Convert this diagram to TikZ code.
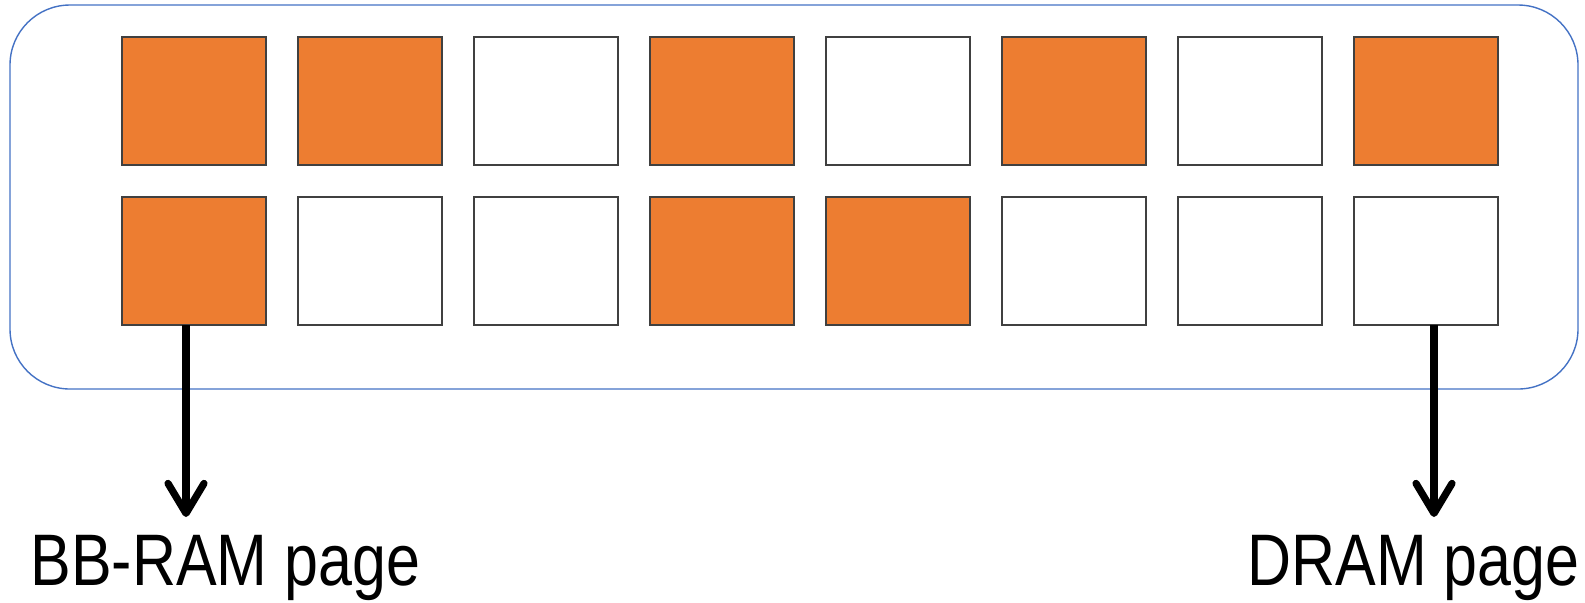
\documentclass[tikz,border=0pt]{standalone}
\usepackage{fontspec}
\setmainfont{Liberation Sans}
\usetikzlibrary{arrows.meta, positioning}
\definecolor{pageorange}{HTML}{ED7D31}
\definecolor{frameblue}{HTML}{4472C4}
\definecolor{cellborder}{HTML}{404040}

\begin{document}
\begin{tikzpicture}[
    x=0.5pt, y=-0.5pt,
    cell/.style={draw=cellborder, line width=0.7pt, minimum width=72pt, minimum height=64pt, inner sep=0pt, outer sep=0pt},
    hot/.style={cell, fill=pageorange},
    cold/.style={cell, fill=white},
    arr/.style={-{Straight Barb[length=15pt, width=18pt, line cap=round, line join=round]}, line width=3.6pt},
    lbl/.style={font=\fontsize{36.5}{40}\selectfont, inner sep=0pt, anchor=base west}
]
    \useasboundingbox (0,0) rectangle (1585,602);
    % memory region
    \draw[frameblue, line width=0.7pt, rounded corners=30pt] (10,5) rectangle (1578,389);

    % pages, two rows
    \foreach \kind [count=\i] in {hot,hot,cold,hot,cold,hot,cold,hot}
        \node[\kind] (a\i) at ({194+176*(\i-1)},101) {};
    \foreach \kind [count=\i] in {hot,cold,cold,hot,hot,cold,cold,cold}
        \node[\kind] (b\i) at ({194+176*(\i-1)},261) {};

    \node[lbl] (bbram) at (30,585) {\scalebox{0.835}[1]{BB-RAM page}};
    \node[lbl] (dram) at (1247,585) {\scalebox{0.835}[1]{DRAM page}};

    \coordinate (bbtip) at (186,517);
    \coordinate (drtip) at (1434,517);
    \draw[arr] ([xshift=-4pt]b1.south) -- (bbtip);
    \draw[arr] ([xshift=4pt]b8.south) -- (drtip);
\end{tikzpicture}
\end{document}
